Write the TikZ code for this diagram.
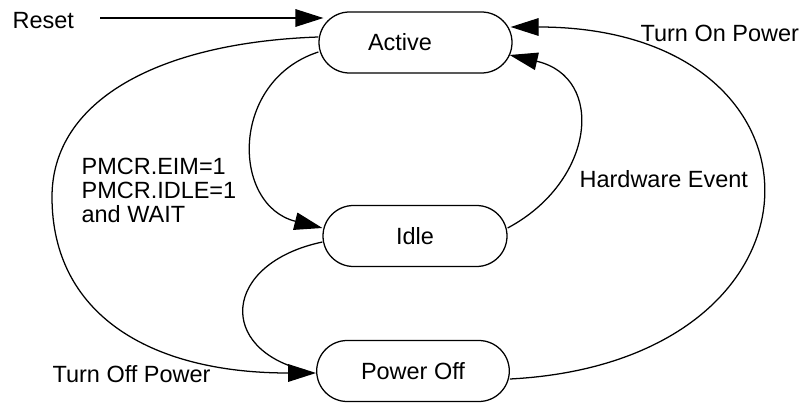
\documentclass[tikz,border=0pt]{standalone}
\usepackage{fontspec}
\setmainfont{Liberation Sans}
\usetikzlibrary{arrows.meta}

\begin{document}
\begin{tikzpicture}[font=\fontsize{16.7}{17.1}\selectfont, line width=0.9pt,
  statebox/.style={draw, rectangle, rounded corners=0.7625cm, minimum height=1.525cm, inner sep=0pt},
  arr/.style={-{Triangle[length=0.7cm,width=0.44cm]}},
  lbl/.style={inner sep=0pt}]
\useasboundingbox (0,0) rectangle (20,10.125);
\node[statebox, minimum width=4.825cm] (active) at (10.3875,9.0625) {Active\hspace*{0.775cm}};
\node[statebox, minimum width=4.6cm] (idle) at (10.375,4.225) {Idle};
\node[statebox, minimum width=4.815cm] (poff) at (10.325,0.85) {Power Off};
\node[lbl, anchor=base west] (reset) at (0.3,9.4) {Reset};
\node[lbl, anchor=base west] (turnon) at (16.0,9.075) {Turn On Power};
\node[lbl, anchor=base west] (hwevent) at (14.475,5.425) {Hardware Event};
\node[lbl, anchor=north west, align=left] (pmcr) at (2.025,6.2) {PMCR.EIM=1\\PMCR.IDLE=1\\and WAIT};
\node[lbl, anchor=base west] (turnoff) at (1.3,0.575) {Turn Off Power};
\coordinate (rstart) at (2.5,9.675); \coordinate (lbend) at (1.3,5.2);
\draw[arr] (rstart) -- ([xshift=0.125cm,yshift=0.6125cm]active.west);
\draw[arr] ([yshift=-0.2375cm]active.west) to[out=198,in=166,looseness=1.36] ([yshift=0.2cm]idle.west);
\draw[arr] ([yshift=0.1375cm]active.west) to[out=182,in=90,out distance=4.03cm,in distance=2.4cm] (lbend)
  to[out=270,in=180,out distance=2.9cm,in distance=4.2cm] ([yshift=-0.05cm]poff.west);
\draw[shorten >=0.25cm] ([yshift=-0.15cm]idle.west) to[out=192,in=167,looseness=2] ([yshift=-0.05cm]poff.west);
\draw[arr] ([yshift=0.2cm]idle.east) to[out=28,in=-13,looseness=1.46] ([xshift=-0.075cm,yshift=-0.3125cm]active.east);
\draw[arr] ([yshift=-0.2cm]poff.east) to[out=3,in=0,looseness=2.43] ([xshift=-0.05cm,yshift=0.3875cm]active.east);
\end{tikzpicture}
\end{document}
